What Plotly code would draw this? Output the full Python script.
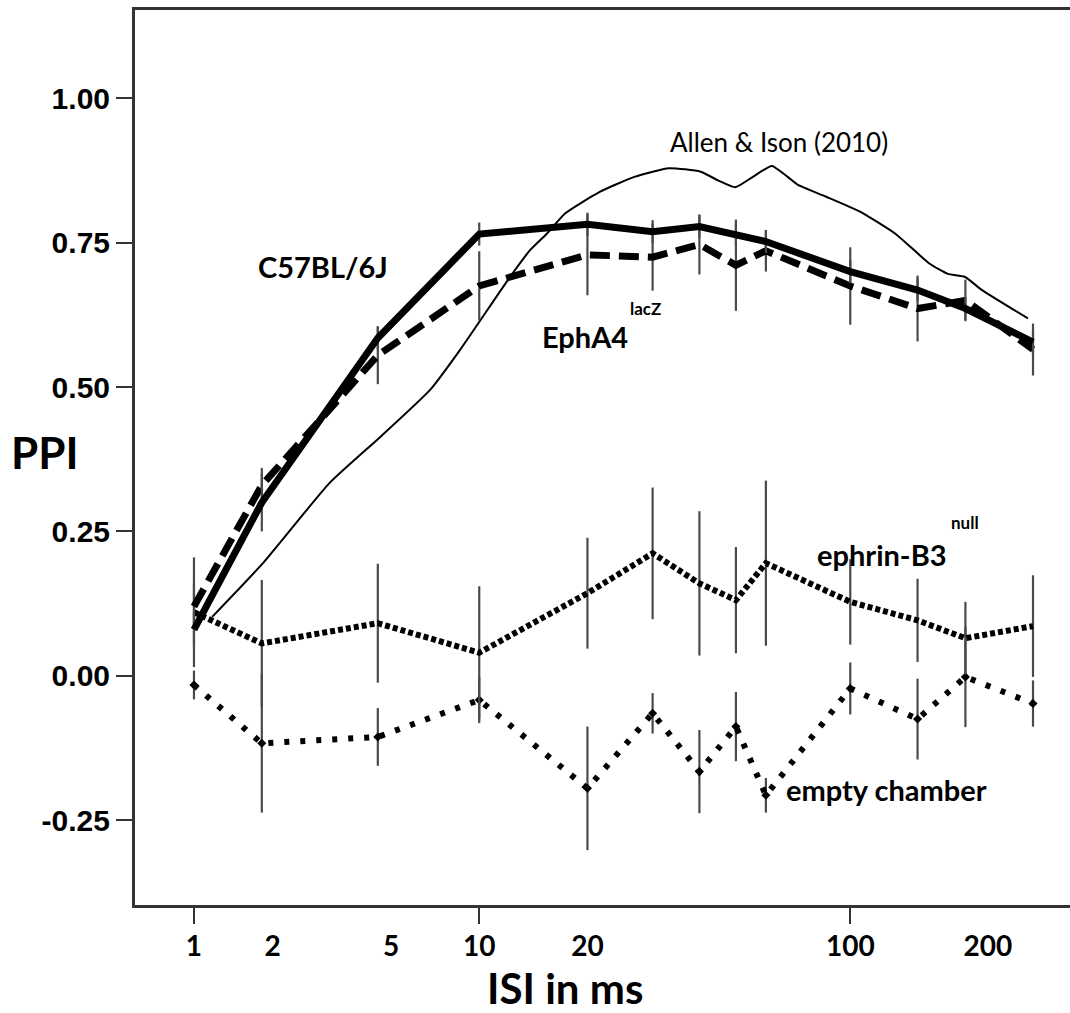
"""
PPI en fonction de l'ISI : C57BL/6J, EphA4 lacZ, ephrin-B3 null, chambre vide,
avec la courbe de référence Allen & Ison (2010).
"""

import plotly.graph_objects as go

# ---- données -------------------------------------------------------------
isi = [1, 2, 5, 10, 20, 30, 40, 50, 60, 100, 150, 200, 300]

c57_ppi = [0.08, 0.30, 0.585, 0.765, 0.782, 0.769, 0.778, 0.765, 0.752, 0.700, 0.668, 0.636, 0.578]
c57_err = [0.03, 0.05, 0.02, 0.02, 0.02, 0.02, 0.02, 0.02, 0.02, 0.02, 0.02, 0.02, 0.02]

epha4_ppi = [0.12, 0.33, 0.555, 0.675, 0.729, 0.725, 0.747, 0.711, 0.736, 0.675, 0.636, 0.650, 0.565]
epha4_err = [0.04, 0.03, 0.05, 0.06, 0.07, 0.058, 0.052, 0.079, 0.036, 0.067, 0.057, 0.036, 0.045]

ephrin_ppi = [0.11, 0.056, 0.091, 0.040, 0.143, 0.212, 0.160, 0.131, 0.195, 0.128, 0.096, 0.065, 0.086]
ephrin_err = [0.095, 0.11, 0.103, 0.115, 0.096, 0.114, 0.125, 0.092, 0.143, 0.074, 0.072, 0.063, 0.088]

empty_ppi = [-0.016, -0.117, -0.106, -0.042, -0.195, -0.065, -0.166, -0.088, -0.207, -0.022, -0.075, -0.002, -0.048]
empty_err = [0.025, 0.12, 0.05, 0.04, 0.107, 0.035, 0.072, 0.06, 0.03, 0.045, 0.07, 0.087, 0.04]

allen_isi = [1.23, 2.02, 3.5, 5.1, 7.2, 8.8, 12.2, 13.9, 15.5, 17.4, 21.6, 26.8, 33.2, 40.3,
             44.8, 49.8, 55.4, 62.2, 68.5, 72.9, 86.2, 106, 131, 161, 180, 199, 221, 291]
allen_ppi = [0.102, 0.195, 0.334, 0.414, 0.495, 0.564, 0.690, 0.737, 0.766, 0.801, 0.838, 0.864,
             0.879, 0.873, 0.858, 0.846, 0.864, 0.883, 0.864, 0.850, 0.830, 0.804, 0.766, 0.714,
             0.696, 0.691, 0.668, 0.619]

# axe : log10(ISI + 1) ; étiquettes placées là où la figure source les dessine
x_labels = ["1", "2", "5", "10", "20", "100", "200"]
x_label_isi = [1, 2.2, 5.5, 10, 20, 100, 229]
x_tick_isi = [1, 10, 100]
y_ticks = [-0.25, 0.0, 0.25, 0.50, 0.75, 1.00]
y_labels = ["-0.25", "0.00", "0.25", "0.50", "0.75", "1.00"]

NOIR = "#000000"
GRIS = "#4a4a4a"
POLICE = "Lato"


def _x(vals):
    return [v + 1 for v in vals]


def _serie(y, err, dash, width=7, markers=False):
    return go.Scatter(
        x=_x(isi), y=y,
        mode="lines+markers" if markers else "lines",
        line=dict(color=NOIR, width=width, dash=dash),
        marker=dict(symbol="diamond", size=7, color=NOIR),
        error_y=dict(type="data", array=err, visible=True,
                     color=GRIS, thickness=2.2, width=0),
        showlegend=False, hoverinfo="skip",
    )


fig = go.Figure()
fig.add_trace(go.Scatter(
    x=_x(allen_isi), y=allen_ppi, mode="lines",
    line=dict(color=NOIR, width=2, shape="spline", smoothing=0.5),
    showlegend=False, hoverinfo="skip",
))
fig.add_trace(_serie(empty_ppi, empty_err, "5px,11px", width=6, markers=True))
fig.add_trace(_serie(ephrin_ppi, ephrin_err, "5px,3px", width=6))
fig.add_trace(_serie(epha4_ppi, epha4_err, "20px,9px"))
fig.add_trace(_serie(c57_ppi, c57_err, "solid"))


def _texte(txt, x, y, size=29, bold=True):
    fig.add_annotation(
        text=txt, x=x, y=y, xref="paper", yref="paper",
        showarrow=False, xanchor="center", yanchor="middle",
        font=dict(family=POLICE, size=size, color=NOIR,
                  weight="bold" if bold else "normal"),
    )


_texte("C57BL/6J", 0.201, 0.713)
_texte("EphA4", 0.481, 0.635)
_texte("lacZ", 0.5465, 0.667, size=17)
_texte("ephrin-B3", 0.799, 0.392)
_texte("null", 0.888, 0.427, size=17)
_texte("empty chamber", 0.804, 0.129)
_texte("Allen & Ison (2010)", 0.689, 0.853, size=26, bold=False)
_texte("PPI", -0.096, 0.506, size=44)
_texte("ISI in ms", 0.46, -0.093, size=42)

fig.update_layout(
    width=1070, height=1013,
    margin=dict(l=135, r=0, t=10, b=108),
    paper_bgcolor="white", plot_bgcolor="white",
    xaxis=dict(
        type="log", range=[0.148, 2.5746],
        tickmode="array", tickvals=_x(x_label_isi), ticktext=x_labels,
        ticks="", ticklabelstandoff=14, showgrid=False, zeroline=False,
        tickfont=dict(family=POLICE, size=28, color=NOIR, weight="bold"),
        minor=dict(tickmode="array", tickvals=_x(x_tick_isi), ticks="outside",
                   ticklen=16, tickwidth=2, tickcolor="#333333", showgrid=False),
        showline=True, linecolor="#333333", linewidth=3, mirror=True,
    ),
    yaxis=dict(
        range=[-0.397, 1.153],
        tickmode="array", tickvals=y_ticks, ticktext=y_labels,
        ticks="outside", ticklen=16, tickwidth=2, tickcolor="#333333",
        showgrid=False, zeroline=False,
        tickfont=dict(family="Liberation Sans", size=30, color=NOIR, weight="bold"),
        showline=True, linecolor="#333333", linewidth=3, mirror=False,
    ),
)

# la page par défaut garde une marge de 8 px autour du graphique
fig.write_html("out.html", config={"displayModeBar": False},
               post_script="document.body.style.margin='0px';")
